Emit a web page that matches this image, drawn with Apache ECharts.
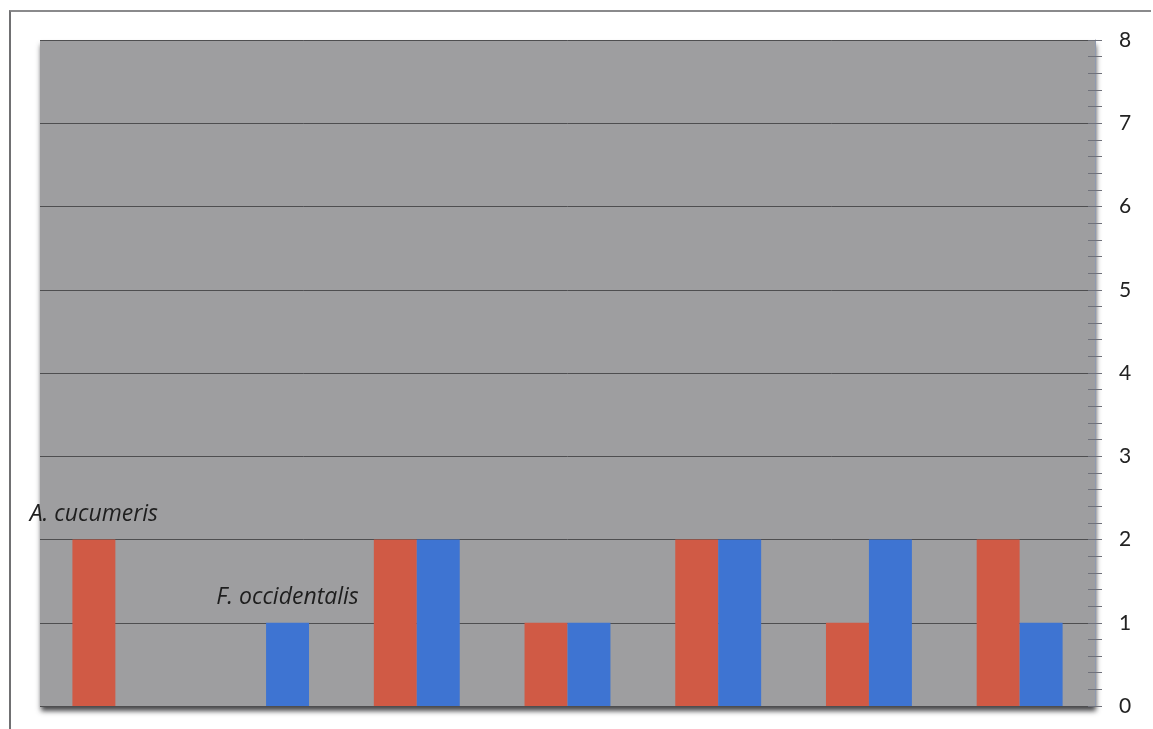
<!DOCTYPE html>
<html>
<head>
<meta charset="utf-8">
<style>
  html, body { margin: 0; padding: 0; background: #ffffff; }
  #frame { position: absolute; left: 9px; top: 10px; width: 1142px; height: 719px;
           border-left: 2px solid #707072; border-top: 2px solid #8a8a8c; box-sizing: border-box; }
  #chart { position: absolute; left: 0; top: 0; width: 1153px; height: 729px; }
</style>
<script src="https://cdn.jsdelivr.net/npm/echarts@6/dist/echarts.min.js"></script>
</head>
<body>
<div id="frame"></div>
<div id="chart"></div>
<script>
// Sampling groups along the x axis (labels are not shown)
const categories = ['1', '2', '3', '4', '5', '6', '7'];
// Counts per group for each species
const cucumeris = [2, 0, 2, 1, 2, 1, 2];
const occidentalis = [0, 1, 2, 1, 2, 2, 1];
// Right-hand axis tick values
const yTicks = [0, 1, 2, 3, 4, 5, 6, 7, 8];

const seriesNames = ['A. cucumeris', 'F. occidentalis'];
const labelIndex = [0, 1]; // group whose bar carries the species name

function withLabel(values, idx) {
  return values.map((v, i) => i === idx
    ? { value: v, label: { show: true, position: 'top', distance: 14, formatter: '{a}' } }
    : v);
}

const chart = echarts.init(document.getElementById('chart'), null, { renderer: 'canvas' });

const axisCommon = {
  type: 'value',
  position: 'right',
  min: yTicks[0],
  max: yTicks[yTicks.length - 1],
  interval: 1,
  splitLine: { show: false },
};

const nameLabel = {
  color: '#1e1e1e', fontStyle: 'italic', fontSize: 23,
  fontFamily: '"Open Sans", Lato, sans-serif'
};

chart.setOption({
  animation: false,
  grid: {
    left: 40, right: 58, top: 40, bottom: 23,
    show: true,
    backgroundColor: '#9e9ea0',
    borderWidth: 0,
    shadowColor: 'rgba(40,40,44,0.85)',
    shadowBlur: 5,
    shadowOffsetY: 5,
    shadowOffsetX: 1
  },
  xAxis: {
    type: 'category',
    data: categories,
    axisLine: { show: false },
    axisTick: { show: false },
    axisLabel: { show: false }
  },
  yAxis: [
    Object.assign({}, axisCommon, {
      axisLine: { show: true, lineStyle: { color: '#8f9ab0', width: 1 } },
      axisTick: { show: true, inside: false, length: 7, lineStyle: { color: '#6f717a' } },
      minorTick: { show: true, splitNumber: 5, length: 7, lineStyle: { color: '#6f717a' } },
      axisLabel: {
        show: true, margin: 24, color: '#222222',
        fontFamily: 'Lato, "Open Sans", sans-serif', fontSize: 21
      },
      splitLine: { show: true, lineStyle: { color: '#4e4e50', width: 1 } }
    }),
    Object.assign({}, axisCommon, {
      axisLine: { show: false },
      axisTick: { show: true, inside: true, length: 7, lineStyle: { color: '#6f717a' } },
      minorTick: { show: true, splitNumber: 5, length: 7, lineStyle: { color: '#6f717a' } },
      axisLabel: { show: false }
    })
  ],
  series: [
    {
      name: seriesNames[0],
      type: 'bar',
      data: withLabel(cucumeris, labelIndex[0]),
      itemStyle: { color: '#d05a45' },
      barGap: '0%',
      barCategoryGap: '43%',
      label: nameLabel
    },
    {
      name: seriesNames[1],
      type: 'bar',
      data: withLabel(occidentalis, labelIndex[1]),
      itemStyle: { color: '#3e74d2' },
      barGap: '0%',
      barCategoryGap: '43%',
      label: nameLabel
    }
  ]
});
</script>
</body>
</html>
